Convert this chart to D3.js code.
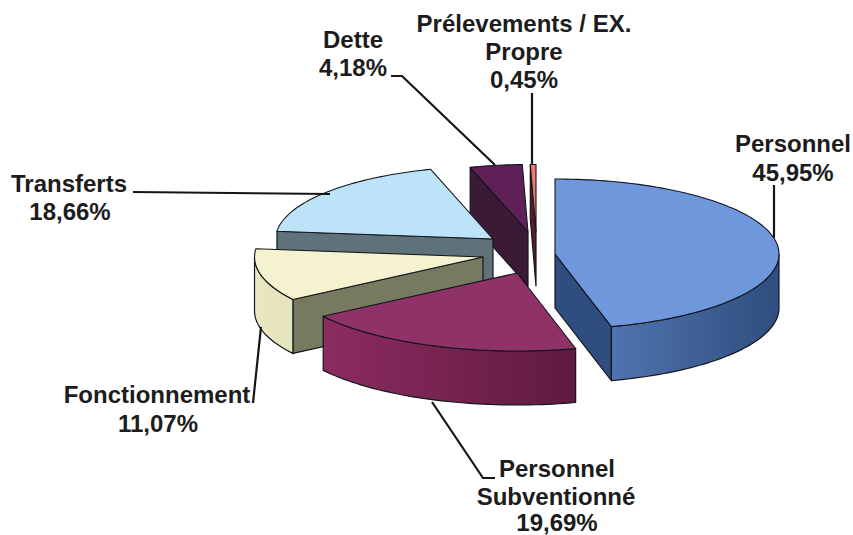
<!DOCTYPE html>
<html>
<head>
<meta charset="utf-8">
<script src="https://cdn.jsdelivr.net/npm/d3@7"></script>
<style>
  html, body { margin: 0; padding: 0; background: #fff; }
  svg { display: block; }
  text { font-family: "Liberation Sans", Arial, sans-serif; font-weight: bold; font-size: 24px; fill: #1c1c1c; text-anchor: middle; }
</style>
</head>
<body>
<div id="chart-area"></div>
<script>
const WIDTH = 853
const HEIGHT = 535

const categories = ["Personnel", "Personnel Subventionné", "Fonctionnement", "Transferts", "Dette", "Prélevements / EX. Propre"]
const values = [45.95, 19.69, 11.07, 18.66, 4.18, 0.45]

const topColors = ["#6f98dc", "#8f3268", "#f5f3cf", "#bde3f9", "#5e2057", "#ee7a6e"]
const wallColors = ["#2f4d7f", "#5f1a40", "#767b60", "#5f7279", "#3a1a35", "#5a1c20"]
const rimColors = [["#4f74ae", "#2f4d7f"], ["#8c2c60", "#5f1a40"], ["#e9e8c2", "#e4e3bb"], ["#5f7279", "#5f7279"], ["#3a1a35", "#3a1a35"], ["#5a1c20", "#5a1c20"]]

// the exploded slices sit at their own apex, back slices shrink a bit (fake perspective)
const RX = 224
const RY = 75
const DEPTH = 54
const layout = [
  { x: 555, y: 254, k: 1 },
  { x: 517, y: 273, k: 1.04 },
  { x: 483, y: 257, k: 1.02 },
  { x: 493, y: 239, k: 0.97 },
  { x: 528, y: 232, k: 0.9 },
  { x: 536, y: 232, k: 0.9 }
]
const drawOrder = [5, 4, 3, 2, 0, 1]

const leaders = [
  [[774, 185], [774, 238]],
  [[532, 93], [532, 165]],
  [[391, 76], [402, 76], [495, 165]],
  [[133, 192], [330, 194]],
  [[253, 403], [261, 327]],
  [[432, 402], [483, 478], [495, 478]]
]
const labels = [
  { x: 793, y: 152, t: "Personnel" },
  { x: 793, y: 181, t: "45,95%" },
  { x: 557, y: 477, t: "Personnel" },
  { x: 556, y: 505, t: "Subventionné" },
  { x: 557, y: 531, t: "19,69%" },
  { x: 157, y: 403, t: "Fonctionnement" },
  { x: 158, y: 432, t: "11,07%" },
  { x: 69, y: 192, t: "Transferts" },
  { x: 70, y: 220, t: "18,66%" },
  { x: 353, y: 48, t: "Dette" },
  { x: 353, y: 76, t: "4,18%" },
  { x: 524, y: 32, t: "Prélevements / EX." },
  { x: 524, y: 60, t: "Propre" },
  { x: 524, y: 88, t: "0,45%" }
]

const svg = d3.select("#chart-area").append("svg")
  .attr("width", WIDTH)
  .attr("height", HEIGHT)

const defs = svg.append("defs")
rimColors.forEach((c, i) => {
  const grad = defs.append("linearGradient").attr("id", "rim" + i)
  grad.append("stop").attr("offset", "0%").attr("stop-color", c[0])
  grad.append("stop").attr("offset", "100%").attr("stop-color", c[1])
})

const pie = d3.pie().sort(null)
const arcs = pie(values)

const line = d3.line()

// point on the top ellipse of a slice, a = clockwise from 12 o'clock
function pt(i, a, down) {
  const c = layout[i]
  return [c.x + RX * c.k * Math.sin(a), c.y - RY * c.k * Math.cos(a) + (down ? DEPTH : 0)]
}

function arcPoints(i, a0, a1, down) {
  const n = Math.max(2, Math.ceil((a1 - a0) * 40))
  return d3.range(n + 1).map(j => pt(i, a0 + (a1 - a0) * j / n, down))
}

function wall(i, a) {
  const c = layout[i]
  const p = pt(i, a)
  return [[c.x, c.y], p, [p[0], p[1] + DEPTH], [c.x, c.y + DEPTH]]
}

const g = svg.append("g")

drawOrder.forEach(i => {
  const d = arcs[i]
  const s = g.append("g").attr("class", "slice")

  // side walls that face the viewer
  const walls = []
  if (Math.sin(d.startAngle) < -0.01) walls.push(d.startAngle)
  if (Math.sin(d.endAngle) > 0.01) walls.push(d.endAngle)
  walls.forEach(a => {
    s.append("path").attr("d", line(wall(i, a)) + "Z")
      .attr("fill", wallColors[i])
      .attr("stroke", "#15151f").attr("stroke-width", 1.2).attr("stroke-linejoin", "round")
  })

  // outer rim, only the front half of the ellipse shows
  const a0 = Math.max(d.startAngle, Math.PI / 2)
  const a1 = Math.min(d.endAngle, 3 * Math.PI / 2)
  if (a1 > a0) {
    const pts = arcPoints(i, a0, a1, false).concat(arcPoints(i, a0, a1, true).reverse())
    s.append("path").attr("d", line(pts) + "Z")
      .attr("fill", `url(#rim${i})`)
      .attr("stroke", "#15151f").attr("stroke-width", 1.2)
  }

  // top face
  const top = [[layout[i].x, layout[i].y]].concat(arcPoints(i, d.startAngle, d.endAngle, false))
  s.append("path").attr("d", line(top) + "Z")
    .attr("fill", topColors[i])
    .attr("stroke", "#15151f").attr("stroke-width", 1.1).attr("stroke-linejoin", "round")
})

svg.selectAll(".leader").data(leaders).enter().append("path")
  .attr("class", "leader")
  .attr("d", line)
  .attr("fill", "none")
  .attr("stroke", "#151515")
  .attr("stroke-width", 2.2)

svg.selectAll(".label").data(labels).enter().append("text")
  .attr("class", "label")
  .attr("x", d => d.x)
  .attr("y", d => d.y)
  .text(d => d.t)
</script>
</body>
</html>
